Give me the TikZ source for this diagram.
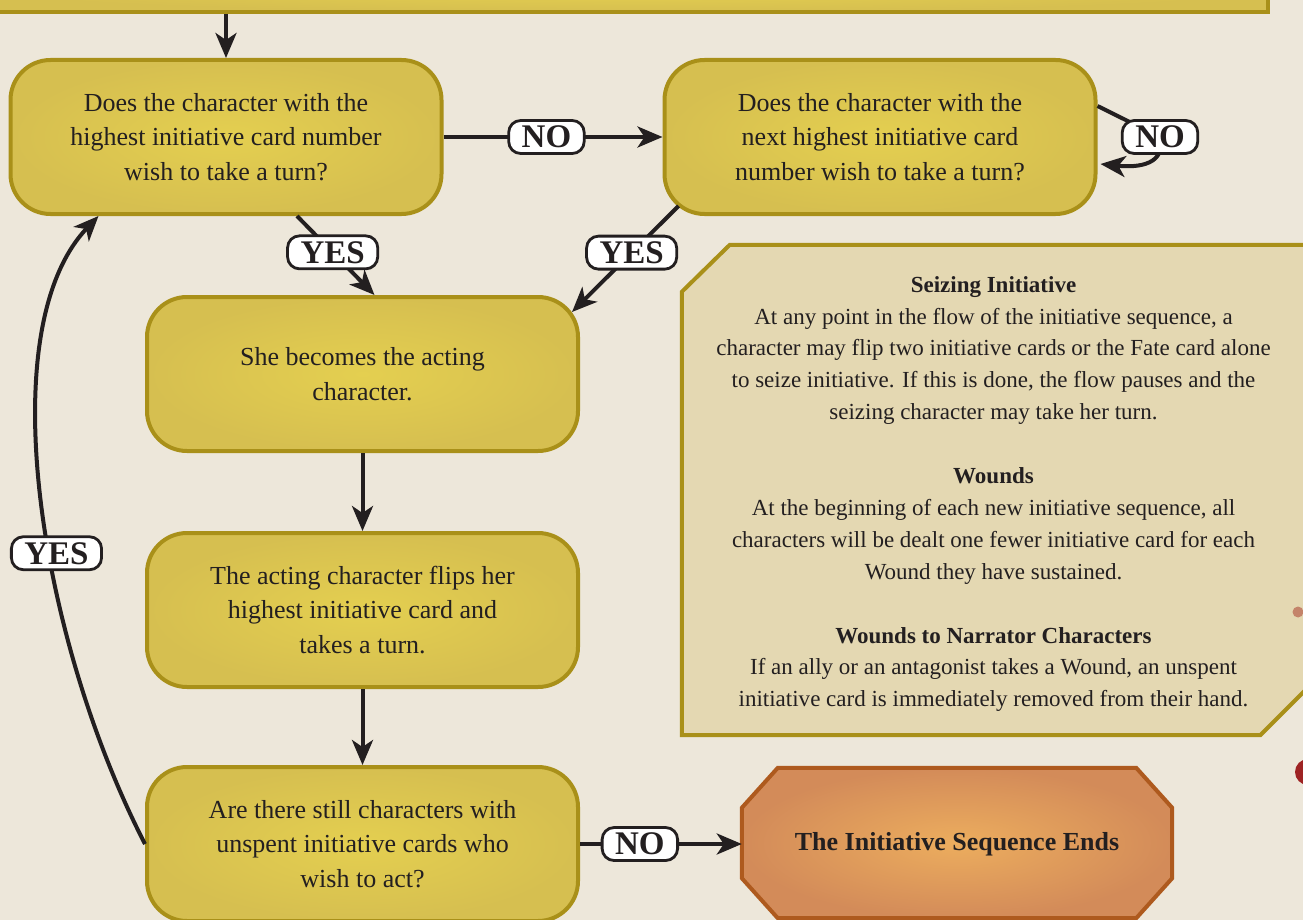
\documentclass[tikz,border=0pt]{standalone}
\usepackage{fontspec}
\setmainfont{Liberation Serif}
\usetikzlibrary{arrows.meta,backgrounds}

\definecolor{paper}{HTML}{EDE7DA}
\definecolor{gold}{HTML}{A99019}
\definecolor{boxin}{HTML}{E4CF50}
\definecolor{boxout}{HTML}{D6BF50}
\definecolor{notefill}{HTML}{E4D8B2}
\definecolor{endin}{HTML}{ECAD5E}
\definecolor{endout}{HTML}{D38B59}
\definecolor{endline}{HTML}{AE5A1E}
\definecolor{ink}{HTML}{231F20}
\definecolor{speck}{HTML}{C4846A}
\definecolor{seal}{HTML}{9E2323}

\begin{document}
\begin{tikzpicture}[x=1pt,y=-1pt,
  qbox/.style={draw=gold, line width=4pt, rounded corners=40pt,
    inner color=boxin, outer color=boxout,
    minimum width=431pt, minimum height=154pt, align=center,
    font=\fontsize{26}{34.5}\selectfont, text=ink},
  flow/.style={draw=ink, line width=4pt,
    -{Stealth[length=25pt,width=21pt,inset=7pt]}},
  pill/.style={draw=ink, fill=white, line width=2.8pt, rounded corners=12pt,
    inner xsep=13pt, inner ysep=0pt, minimum height=33pt,
    font=\fontsize{33}{33}\selectfont\bfseries, text=ink},
  notetext/.style={align=center, text=ink,
    font=\fontsize{23}{31.9}\selectfont,
    minimum width=623pt, minimum height=490pt},
]
\useasboundingbox (0,0) rectangle (1303,920);

% banner at the top of the page
\node[draw=gold, line width=4pt, inner color=boxin, outer color=boxout,
      minimum width=1278pt, minimum height=44pt] (top) at (629,-10) {};

% decision and action boxes
\node[qbox] (q1) at (226,137)
  {Does the character with the\\highest initiative card number\\wish to take a turn?};
\node[qbox] (q2) at (880,137)
  {Does the character with the\\next highest initiative card\\number wish to take a turn?};
\node[qbox] (act) at (362.5,374)
  {She becomes the acting\\character.};
\node[qbox] (flip) at (362.5,610)
  {The acting character flips her\\highest initiative card and\\takes a turn.};
\node[qbox] (more) at (362.5,844)
  {Are there still characters with\\unspent initiative cards who\\wish to act?};

% terminal box
\node[minimum width=430pt, minimum height=150pt, text=ink,
      font=\fontsize{26}{30}\selectfont\bfseries] (ends) at (957,844)
  {The Initiative Sequence Ends};

% side notes
\node[notetext] (notes) at (993.5,494)
  {{\bfseries Seizing Initiative}\\
   At any point in the flow of the initiative sequence, a\\
   character may flip two initiative cards or the Fate card alone\\
   to seize initiative. If this is done, the flow pauses and the\\
   seizing character may take her turn.\\[31.9pt]
   {\bfseries Wounds}\\
   At the beginning of each new initiative sequence, all\\
   characters will be dealt one fewer initiative card for each\\
   Wound they have sustained.\\[31.9pt]
   {\bfseries Wounds to Narrator Characters}\\
   If an ally or an antagonist takes a Wound, an unspent\\
   initiative card is immediately removed from their hand.};

% connectors
\draw[flow] (q1.north |- top.south) -- (q1.north);
\draw[flow] (q1.east) -- (q2.west) node[pill, pos=0.47] (no1) {NO};
\draw[flow] ([yshift=31pt]q2.east) -- (1160,137) node[pill] (no2) {NO}
  .. controls (1166,164) and (1140,168) .. ([xshift=3pt,yshift=-27pt]q2.east);
\draw[flow] ([xshift=71pt]q1.south) -- ([xshift=12pt]act.north)
  node[pill, pos=0.46] (yes1) {YES};
\draw[flow] ([xshift=16pt,yshift=10pt]q2.south west)
  -- ([xshift=-8pt,yshift=-17pt]act.north east)
  node[pill, pos=0.44] (yes2) {YES};
\draw[flow] (act.south) -- (flip.north);
\draw[flow] (flip.south) -- (more.north);
\draw[flow] (more.east) -- (ends.west) node[pill, pos=0.37] (no3) {NO};
\draw[flow] (more.west) .. controls (40,640) and (-10,330)
  .. ([xshift=90pt]q1.south west)
  node[pill, pos=0.42, xshift=7pt] (yes3) {YES};

% page marks at the right edge
\fill[speck] (1298,612) circle (5.5pt);
\fill[seal] (1308,772) circle (13pt);

\begin{scope}[on background layer]
  \fill[paper] (0,0) rectangle (1303,920);
  % notes panel, cut at the top left and bottom right corners
  \draw[draw=gold, line width=4pt, fill=notefill]
    ([xshift=48pt,yshift=4pt]notes.north west)
    -- ([yshift=4pt]notes.north east)
    -- ([yshift=49pt]notes.south east)
    -- ([xshift=-45pt,yshift=4pt]notes.south east)
    -- ([yshift=4pt]notes.south west)
    -- ([yshift=-43pt]notes.north west) -- cycle;
  \shadedraw[draw=endline, line width=4pt, inner color=endin, outer color=endout]
    ([xshift=36pt,yshift=1pt]ends.north west)
    -- ([xshift=-36pt,yshift=1pt]ends.north east)
    -- ([yshift=-39pt]ends.north east) -- ([yshift=41pt]ends.south east)
    -- ([xshift=-36pt,yshift=1pt]ends.south east)
    -- ([xshift=36pt,yshift=1pt]ends.south west)
    -- ([yshift=41pt]ends.south west) -- ([yshift=-39pt]ends.north west)
    -- cycle;
\end{scope}
\end{tikzpicture}
\end{document}
